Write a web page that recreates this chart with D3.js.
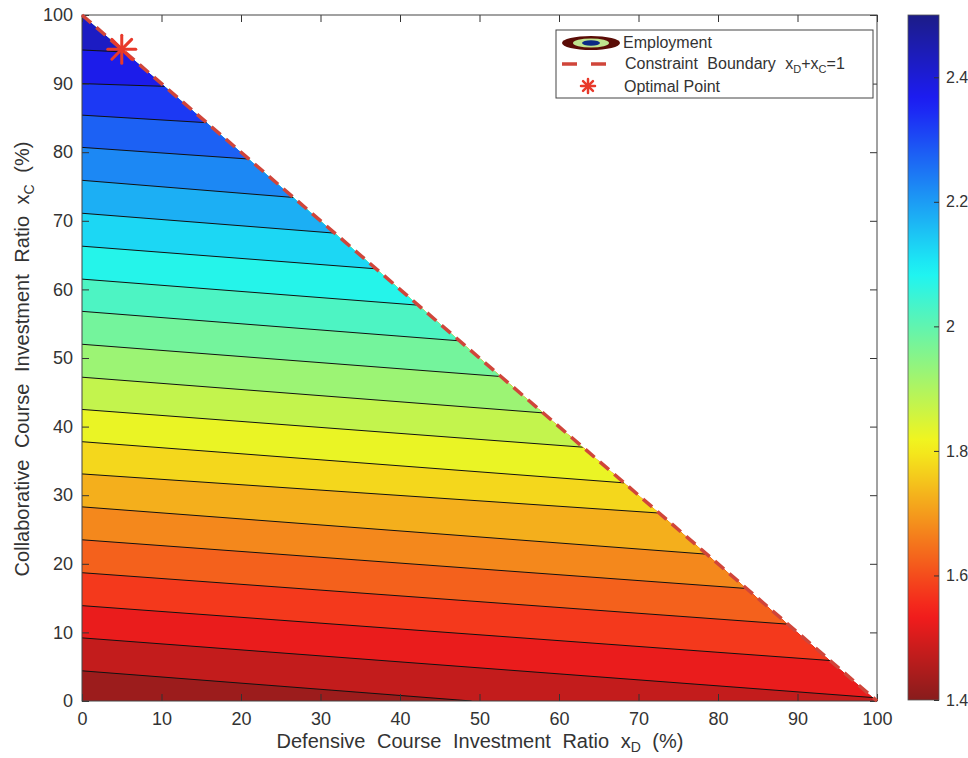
<!DOCTYPE html>
<html lang="en">
<head>
    <meta charset="UTF-8"/>
    <title>Employment contour over course investment ratios</title>
    <script src="https://d3js.org/d3.v7.min.js"></script>
    <style>
        body { margin: 0; background: #fff; }
        text { font-family: "Liberation Sans", Arial, sans-serif; fill: #333; }
    </style>
</head>
<body>
<script>
    var w = 968;
    var h = 758;

    // contour levels of Employment
    var levels = [1.45, 1.50, 1.55, 1.60, 1.65, 1.70, 1.75, 1.80, 1.85, 1.90,
                  1.95, 2.00, 2.05, 2.10, 2.15, 2.20, 2.25, 2.30, 2.35, 2.40];
    // xC (%) where each contour line leaves the left edge (xD = 0)
    var startXC = [4.4, 9.2, 13.9, 18.7, 23.5, 28.3, 33.1, 37.8, 42.5, 47.2,
                   52.0, 56.8, 61.5, 66.3, 71.1, 75.9, 80.7, 85.4, 90.0, 94.9];
    // where each contour line ends (bottom edge or constraint boundary)
    var endXD = [49.0, 99.5, 94.1, 88.8, 83.6, 78.6, 72.6, 68.2, 63.0, 58.0,
                 52.7, 47.5, 42.3, 37.0, 31.8, 26.6, 21.0, 15.7, 10.4, 5.4];
    var endXC = [0.0, 0.5, 5.9, 11.2, 16.4, 21.4, 27.4, 31.8, 37.0, 42.0,
                 47.3, 52.5, 57.7, 63.0, 68.2, 73.4, 79.0, 84.3, 89.6, 94.6];

    var colorMin = 1.4, colorMax = 2.5;
    var colorTicks = [1.4, 1.6, 1.8, 2.0, 2.2, 2.4];
    var axisTicks = [0, 10, 20, 30, 40, 50, 60, 70, 80, 90, 100];
    var optimal = [5, 95];

    var svg = d3.select("body").append("svg")
        .attr("width", w)
        .attr("height", h);

    var x = d3.scaleLinear().domain([0, 100]).range([82, 877]);
    var y = d3.scaleLinear().domain([0, 100]).range([701, 15]);
    var cScale = d3.scaleLinear().domain([colorMin, colorMax]).range([700, 15]);

    // flipped jet colormap, slightly softened like the picture
    function clamp(v) { return Math.max(0, Math.min(1, v)); }
    function colormap(v) {
        var t = 1 - (v - colorMin) / (colorMax - colorMin);
        var r = clamp(1.5 - Math.abs(4 * t - 3));
        var g = clamp(1.5 - Math.abs(4 * t - 2));
        var b = clamp(1.5 - Math.abs(4 * t - 1));
        var c = d3.rgb(r * 255, g * 255, b * 255);
        return d3.interpolateRgb(c, "#b8b8b8")(0.15);
    }

    var line = d3.line().x(d => x(d[0])).y(d => y(d[1]));

    // triangle clip
    var tri = [[0, 0], [100, 0], [0, 100]];
    svg.append("clipPath").attr("id", "tri")
        .append("path").attr("d", line(tri) + "Z");

    var plot = svg.append("g").attr("clip-path", "url(#tri)");

    // base band below the first level
    plot.append("path")
        .attr("d", line(tri) + "Z")
        .attr("fill", colormap((colorMin + levels[0]) / 2));

    // region above each level, painted bottom-up
    levels.forEach(function (lv, i) {
        var pts = [[0, startXC[i]], [endXD[i], endXC[i]]];
        if (endXC[i] === 0) pts.push([100, 0]);
        pts.push([0, 100]);
        var next = i < levels.length - 1 ? levels[i + 1] : colorMax - 0.05;
        plot.append("path")
            .attr("d", line(pts) + "Z")
            .attr("fill", colormap((lv + next) / 2));
    });

    // contour lines
    levels.forEach(function (lv, i) {
        plot.append("path")
            .attr("d", line([[0, startXC[i]], [endXD[i], endXC[i]]]))
            .attr("fill", "none")
            .attr("stroke", "#111")
            .attr("stroke-width", 1);
    });

    // axes with inward ticks
    var xAxis = d3.axisBottom(x).tickValues(axisTicks).tickSizeInner(-7).tickSizeOuter(0).tickPadding(11);
    var yAxis = d3.axisLeft(y).tickValues(axisTicks).tickSizeInner(-7).tickSizeOuter(0).tickPadding(9);

    var gx = svg.append("g").attr("transform", "translate(0,701)").call(xAxis);
    var gy = svg.append("g").attr("transform", "translate(82,0)").call(yAxis);
    var gt = svg.append("g").attr("transform", "translate(0,15)")
        .call(d3.axisTop(x).tickValues(axisTicks).tickSizeInner(-7).tickSizeOuter(0).tickFormat(""));
    var gr = svg.append("g").attr("transform", "translate(877,0)")
        .call(d3.axisRight(y).tickValues(axisTicks).tickSizeInner(-7).tickSizeOuter(0).tickFormat(""));

    [gx, gy, gt, gr].forEach(function (g) {
        g.select(".domain").remove();
        g.selectAll(".tick line").attr("stroke", "#333");
        g.selectAll("text").attr("font-size", 18).attr("fill", "#3a3a3a")
            .attr("font-family", "Liberation Sans, Arial, sans-serif");
    });

    svg.append("rect")
        .attr("x", 82).attr("y", 15)
        .attr("width", 795).attr("height", 686)
        .attr("fill", "none").attr("stroke", "#444").attr("stroke-width", 1);

    // constraint boundary
    svg.append("path")
        .attr("d", line([[0, 100], [100, 0]]))
        .attr("fill", "none")
        .attr("stroke", "#d0453a")
        .attr("stroke-width", 3.5)
        .attr("stroke-dasharray", "12,7");

    // optimal point asterisk
    function asterisk(g, cx, cy, r, sw) {
        [0, 45, 90, 135].forEach(function (a) {
            var rad = a * Math.PI / 180;
            g.append("line")
                .attr("x1", cx - r * Math.cos(rad)).attr("y1", cy - r * Math.sin(rad))
                .attr("x2", cx + r * Math.cos(rad)).attr("y2", cy + r * Math.sin(rad))
                .attr("stroke", "#e8392a").attr("stroke-width", sw)
                .attr("stroke-linecap", "round");
        });
    }
    asterisk(svg, x(optimal[0]), y(optimal[1]), 14, 3);

    // axis titles
    var xt = svg.append("text")
        .attr("x", 480).attr("y", 748)
        .attr("text-anchor", "middle")
        .attr("font-size", 20)
        .attr("word-spacing", 6);
    xt.append("tspan").text("Defensive Course Investment Ratio x");
    xt.append("tspan").attr("dy", 4).attr("font-size", 14).attr("word-spacing", 0).text("D");
    xt.append("tspan").attr("dy", -4).text(" (%)");

    var yt = svg.append("text")
        .attr("transform", "translate(29,359) rotate(-90)")
        .attr("text-anchor", "middle")
        .attr("font-size", 20)
        .attr("word-spacing", 6);
    yt.append("tspan").text("Collaborative Course Investment Ratio x");
    yt.append("tspan").attr("dy", 5).attr("font-size", 14).attr("word-spacing", 0).text("C");
    yt.append("tspan").attr("dy", -5).text(" (%)");

    // legend
    var lg = svg.append("g");
    lg.append("rect")
        .attr("x", 556).attr("y", 30)
        .attr("width", 317).attr("height", 68)
        .attr("fill", "#fff").attr("stroke", "#444").attr("stroke-width", 1);
    lg.append("ellipse").attr("cx", 591).attr("cy", 43).attr("rx", 29).attr("ry", 7).attr("fill", "#5a0c06");
    lg.append("ellipse").attr("cx", 591).attr("cy", 43).attr("rx", 18).attr("ry", 4.5).attr("fill", "#bfe48e");
    lg.append("ellipse").attr("cx", 591).attr("cy", 43).attr("rx", 9).attr("ry", 2.8).attr("fill", "#0b2a85");
    lg.append("line")
        .attr("x1", 562).attr("y1", 64).attr("x2", 608).attr("y2", 64)
        .attr("stroke", "#d0453a").attr("stroke-width", 3.5)
        .attr("stroke-dasharray", "15,14");
    asterisk(lg, 588, 86, 7, 2.5);

    lg.append("text").attr("x", 623).attr("y", 48).attr("font-size", 16).text("Employment");
    var lt = lg.append("text").attr("x", 625).attr("y", 69).attr("font-size", 16).attr("word-spacing", 5);
    lt.append("tspan").text("Constraint Boundary x");
    lt.append("tspan").attr("dy", 4).attr("font-size", 11).text("D");
    lt.append("tspan").attr("dy", -4).text("+x");
    lt.append("tspan").attr("dy", 4).attr("font-size", 11).text("C");
    lt.append("tspan").attr("dy", -4).text("=1");
    lg.append("text").attr("x", 624).attr("y", 92).attr("font-size", 16).text("Optimal Point");

    // colorbar
    var grad = svg.append("defs").append("linearGradient")
        .attr("id", "cbar")
        .attr("x1", 0).attr("y1", 1).attr("x2", 0).attr("y2", 0);
    d3.range(0, 1.0001, 0.02).forEach(function (t) {
        grad.append("stop")
            .attr("offset", t)
            .attr("stop-color", colormap(colorMin + t * (colorMax - colorMin)));
    });
    svg.append("rect")
        .attr("x", 908).attr("y", 15)
        .attr("width", 31).attr("height", 685)
        .attr("fill", "url(#cbar)")
        .attr("stroke", "#555").attr("stroke-width", 0.8);

    var gc = svg.append("g").attr("transform", "translate(939,0)")
        .call(d3.axisRight(cScale).tickValues(colorTicks).tickSizeInner(-5).tickSizeOuter(0).tickPadding(7)
            .tickFormat(d3.format("~g")));
    gc.select(".domain").remove();
    gc.selectAll(".tick line").attr("stroke", "#333");
    gc.selectAll("text").attr("font-size", 16).attr("fill", "#3a3a3a")
        .attr("font-family", "Liberation Sans, Arial, sans-serif");
</script>
</body>
</html>
